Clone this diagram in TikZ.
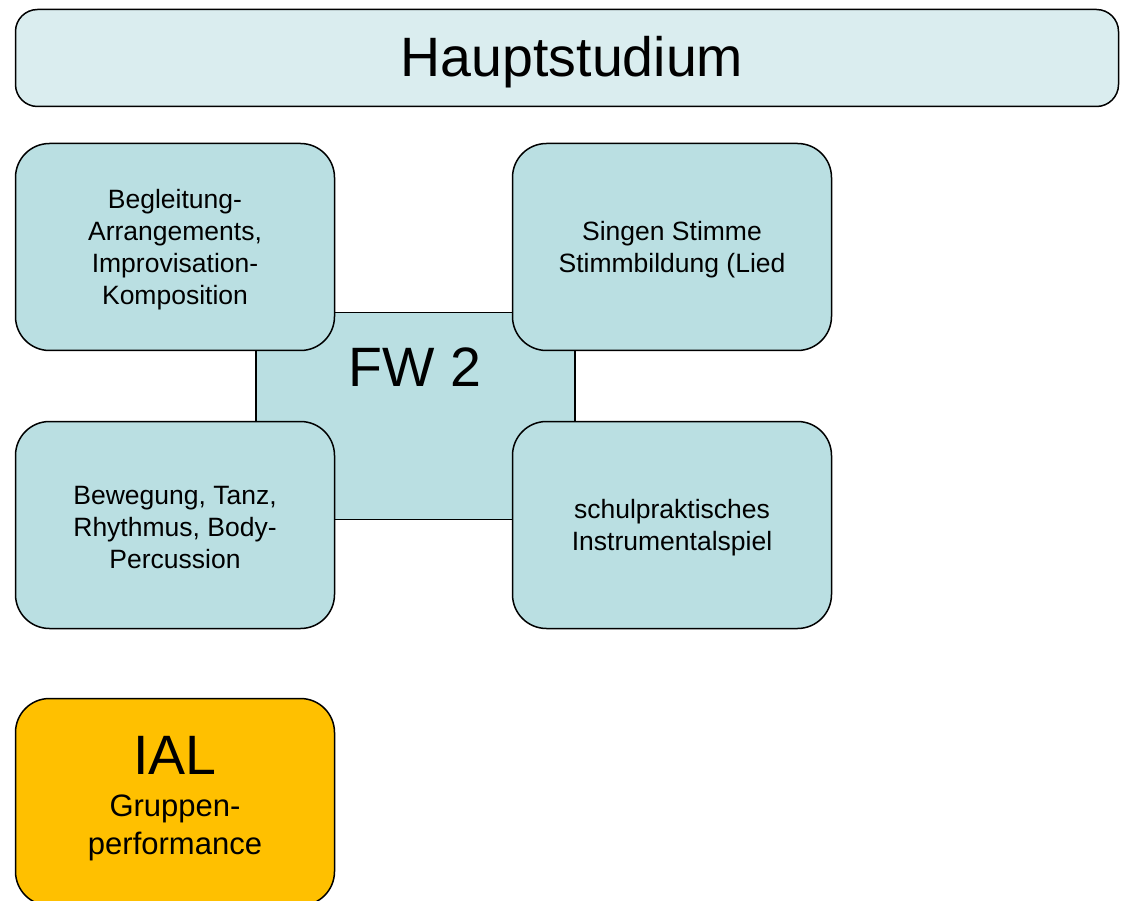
\documentclass[tikz,border=0pt]{standalone}
\usepackage{fontspec}
\setmainfont{Liberation Sans}
\definecolor{kopffarbe}{HTML}{DAEDEF}
\definecolor{fachfarbe}{HTML}{BADFE2}
\definecolor{ialfarbe}{HTML}{FFC000}
\tikzset{
  kasten/.style={draw, line width=1.5pt, minimum width=319pt, minimum height=207pt},
  fach/.style={kasten, rounded corners=34pt, fill=fachfarbe},
  fachtext/.style={align=center, font=\fontsize{26.5}{32}\selectfont},
  gross/.style={font=\fontsize{55.5}{66}\selectfont}
}

\begin{document}
\begin{tikzpicture}[x=1pt,y=-1pt]
    \useasboundingbox (0,0) rectangle (1122,901);
    \node [draw, line width=1.5pt, rounded corners=22pt, fill=kopffarbe,
      minimum width=1103pt, minimum height=97pt] (haupt) at (567,58) {};
    \node [gross] (haupttext) at (572,62) {Hauptstudium};
    % FW 2 in der Mitte, die vier Felder darueber
    \node [kasten, fill=fachfarbe] (fw) at (415.5,416) {};
    \node [gross] (fwtext) at (415,367) {FW 2};
    \node [fach] (begleitung) at (175,247) {};
    \node [fach] (singen) at (672,247) {};
    \node [fach] (bewegung) at (175,525) {};
    \node [fach] (schulpraxis) at (672,525) {};
    \node [fachtext] (begleitungtext) at (175,250)
      {Begleitung-\\Arrangements,\\Improvisation-\\Komposition};
    \node [fachtext] (singentext) at (672,250) {Singen Stimme\\Stimmbildung (Lied};
    \node [fachtext] (bewegungtext) at (175,528)
      {Bewegung, Tanz,\\Rhythmus, Body-\\Percussion};
    \node [fachtext] (schulpraxistext) at (672,528)
      {schulpraktisches\\Instrumentalspiel};
    % Pruefung
    \node [kasten, rounded corners=34pt, fill=ialfarbe] (ial) at (175,802) {};
    \node [gross] (ialtext) at (175,755) {IAL};
    \node [align=center, font=\fontsize{31}{38}\selectfont] (gruppe) at (175,828)
      {Gruppen-\\performance};
\end{tikzpicture}
\end{document}
